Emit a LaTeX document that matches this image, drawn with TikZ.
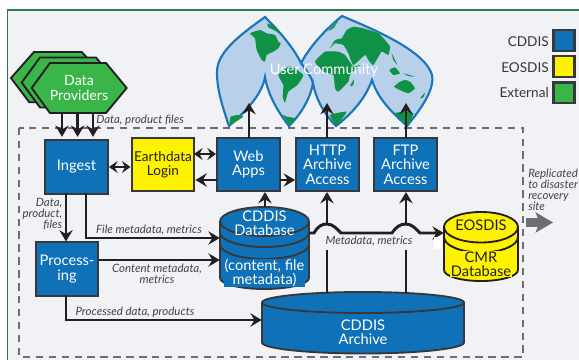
\documentclass[tikz,border=0pt]{standalone}
\usepackage{fontspec}
\setmainfont{Lato}
\usetikzlibrary{arrows.meta}
\definecolor{bgc}{HTML}{F1F2F5}
\definecolor{panelc}{HTML}{2A7A55}
\definecolor{bluec}{HTML}{0F71B8}
\definecolor{yellowc}{HTML}{FFF200}
\definecolor{greenc}{HTML}{39B54A}
\definecolor{inkc}{HTML}{231F20}
\definecolor{edgec}{HTML}{38383A}
\definecolor{dashc}{HTML}{6D6E71}
\definecolor{oceanc}{HTML}{B9D0EA}
\definecolor{rimc}{HTML}{1B75BB}
\definecolor{landc}{HTML}{0F9146}
\tikzset{
  boxbase/.style={draw=edgec,line width=1.5pt,inner sep=0pt,align=center,minimum width=47.2pt,minimum height=39.8pt,font=\fontsize{11pt}{10.8pt}\selectfont},
  bluebox/.style={boxbase,fill=bluec,text=white},
  yellowbox/.style={boxbase,fill=yellowc,text=inkc,font=\fontsize{10.2pt}{10.8pt}\selectfont},
  cylblue/.style={draw=edgec,line width=1.4pt,fill=bluec},
  cylyellow/.style={draw=inkc,line width=1.4pt,fill=yellowc},
  hexshape/.style={draw=inkc,line width=1.4pt,fill=greenc,line join=miter},
  flow/.style={draw=inkc,line width=2.2pt,-{Stealth[length=8.5pt,width=10pt,inset=3pt]}},
  flowboth/.style={draw=inkc,line width=2.2pt,{Stealth[length=6.5pt,width=9pt,inset=2.4pt]}-{Stealth[length=6.5pt,width=9pt,inset=2.4pt]}},
  plainflow/.style={draw=inkc,line width=2.2pt},
  note/.style={inner sep=0pt,align=center,text=inkc!85,font=\itshape\fontsize{8.6pt}{8.2pt}\selectfont},
  cyltext/.style={inner sep=0pt,align=center,font=\fontsize{11pt}{10.6pt}\selectfont},
  legendtext/.style={inner sep=0pt,anchor=east,text=inkc!90,font=\fontsize{10.2pt}{10pt}\selectfont},
  legendbox/.style={draw=edgec,line width=1.8pt,inner sep=0pt,minimum width=15.6pt,minimum height=15.6pt},
  land/.style={fill=landc,draw=none},
  hitbox/.style={inner sep=0pt,draw=none,fill=none}
}
\newcommand{\landblob}[1]{\fill[land] plot[smooth cycle,tension=.25] coordinates {#1};}
\begin{document}
\begin{tikzpicture}[x=.75pt,y=-.75pt]
\useasboundingbox (0,0) rectangle (579,360);
% panel
\fill[white] (0,0) rectangle (579,360);
\fill[bgc] (7.5,10) rectangle (579,360);
\draw[panelc,line width=1.1pt] (7.5,360) -- (7.5,10) -- (579,10);
% maps
\draw[fill=oceanc,draw=rimc,line width=1.6pt,line join=miter]
 (265,17) .. controls (280,32) and (293,47) .. (301,63)
 .. controls (311,45) and (325,30) .. (342,16)
 .. controls (370,28) and (425,50) .. (432,75)
 .. controls (435,90) and (420,110) .. (407,126)
 .. controls (395,115) and (378,100) .. (372,80)
 .. controls (365,100) and (350,115) .. (336,126)
 .. controls (325,115) and (316,100) .. (313,83)
 .. controls (310,100) and (300,115) .. (289,126)
 .. controls (278,112) and (268,95) .. (265,77)
 .. controls (262,95) and (245,112) .. (229,126)
 .. controls (222,105) and (217,90) .. (217,72)
 .. controls (217,52) and (240,35) .. cycle;
\draw[rimc,line width=1.6pt] (301,63) .. controls (306,70) and (311,76) .. (313,83);
\begin{scope}[shift={(210,10)},x=.25pt,y=-.25pt]
 \landblob{(120,70)(150,60)(170,70)(195,75)(205,95)(212,100)(205,115)(190,125)(170,135)(165,155)(155,150)(140,120)(135,85)}
 \landblob{(172,40)(195,50)(215,75)(195,62)(175,52)}
 \landblob{(205,195)(240,168)(280,195)(262,225)(235,245)(225,278)(218,260)(220,225)}
 \landblob{(60,345)(62,320)(85,315)(100,320)}
 \landblob{(218,315)(230,320)(255,325)(240,345)}
\end{scope}
\begin{scope}[shift={(310,10)},x=.25pt,y=-.25pt]
 \landblob{(15,155)(45,125)(85,125)(105,135)(130,170)(150,165)(120,195)(115,215)(85,245)(75,235)(70,195)(40,185)}
 \landblob{(60,115)(75,90)(95,85)(110,60)(130,50)(160,55)(205,70)(225,90)(240,110)(235,135)(215,125)(190,165)(175,150)(165,135)(130,165)(115,130)(100,105)(75,100)}
 \landblob{(55,62)(85,32)(70,55)}
 \landblob{(252,230)(270,215)(285,210)(300,215)(315,235)(295,250)(270,240)}
 \landblob{(60,315)(110,305)(80,345)}
 \landblob{(255,310)(285,305)(310,310)(295,345)}
 \landblob{(238,180)(255,172)(270,190)(250,195)}
 \landblob{(280,190)(315,200)(295,198)}
 \landblob{(120,228)(132,208)(130,225)}
 \landblob{(245,130)(255,150)(262,165)(250,150)}
 \landblob{(330,265)(345,248)(340,262)}
\end{scope}
\node[inner sep=0pt,text=white,font=\fontsize{11pt}{11pt}\selectfont] (community) at (324,70) {User Community};
% dashed frame
\draw[dashc,line width=2.1pt,dash pattern=on 5.5pt off 4.2pt] (19,128) rectangle (523,357);
% hexagons
\draw[hexshape] (11,78) -- (34,52) -- (81.7,52) -- (106,78) -- (85.3,102.3) -- (29.3,102.3) -- cycle;
\draw[hexshape] (21.7,82.5) -- (40,57.5) -- (96,57.5) -- (116.7,82.5) -- (96,107.5) -- (40,107.5) -- cycle;
\draw[hexshape] (31.7,88) -- (50,63) -- (106,63) -- (126.7,88) -- (106,113) -- (50,113) -- cycle;
\node[inner sep=0pt,align=center,text=white,font=\fontsize{10.6pt}{10.8pt}\selectfont] (providers) at (79,88) {Data\\Providers};
\coordinate (prov1) at (62,113);
\coordinate (prov2) at (77.6,113);
\coordinate (prov3) at (93,113);
% boxes
\node[bluebox] (ingest) at (76.5,167) {Ingest};
\node[yellowbox] (login) at (163,164.5) {Earthdata\\Login};
\node[bluebox] (web) at (248.5,164.5) {Web\\Apps};
\node[bluebox] (http) at (327.5,164.5) {HTTP\\Archive\\Access};
\node[bluebox] (ftp) at (405.5,164.5) {FTP\\Archive\\Access};
\node[bluebox] (proc) at (67,269) {Process-\\ing};
% cylinder CDDIS database
\draw[cylblue] (220,221.5) arc[start angle=180,end angle=360,x radius=44.5,y radius=14.5] -- (309,278) arc[start angle=0,end angle=180,x radius=44.5,y radius=11] -- cycle;
\draw[edgec,line width=1.4pt] (220,221.5) arc[start angle=180,end angle=0,x radius=44.5,y radius=14.5];
\draw[edgec,line width=1.4pt] (220,232.5) arc[start angle=180,end angle=0,x radius=44.5,y radius=14.5];
\draw[edgec,line width=1.4pt] (220,244.5) arc[start angle=180,end angle=0,x radius=44.5,y radius=14.5];
\node[hitbox,minimum width=66.8pt,minimum height=61.5pt] (database) at (264.5,248) {};
\node[cyltext,text=white] (dbname) at (264.5,223) {CDDIS\\Database};
\node[cyltext,text=white,fill=bluec,inner sep=.5pt] (dbnote) at (264.5,273) {(content, file\\metadata)};
% cylinder archive
\draw[cylblue] (262,302.5) arc[start angle=180,end angle=360,x radius=101,y radius=10.5] -- (464,342.5) arc[start angle=0,end angle=180,x radius=101,y radius=11] -- cycle;
\draw[edgec,line width=1.4pt] (262,302.5) arc[start angle=180,end angle=0,x radius=101,y radius=10.5];
\node[hitbox,minimum width=151.5pt,minimum height=46pt] (archive) at (363,323) {};
\node[cyltext,text=white] (archivename) at (363,332) {CDDIS\\Archive};
% cylinder EOSDIS
\draw[cylyellow] (444,227) arc[start angle=180,end angle=360,x radius=37,y radius=15] -- (518,270) arc[start angle=0,end angle=180,x radius=37,y radius=11] -- cycle;
\draw[inkc,line width=1.4pt] (444,227) arc[start angle=180,end angle=0,x radius=37,y radius=15.5];
\draw[inkc,line width=1.4pt] (444,237) arc[start angle=180,end angle=0,x radius=37,y radius=15.5];
\node[hitbox,minimum width=55.5pt,minimum height=52pt] (cmr) at (481,246.5) {};
\node[cyltext,text=inkc] (cmrtop) at (481,225) {EOSDIS};
\node[cyltext,text=inkc,fill=yellowc,inner sep=.5pt] (cmrname) at (481,264) {CMR\\Database};
% connectors
\draw[flow,shorten >=2pt] (prov1) -- (prov1 |- ingest.north);
\draw[flow,shorten >=2pt] (prov2) -- (prov2 |- ingest.north);
\draw[flow,shorten >=2pt] (prov3) -- (prov3 |- ingest.north);
\coordinate (i2p) at (66,193);
\draw[flow] (i2p) -- (i2p |- proc.north);
\coordinate (i2d) at (86,193);
\draw[flow] (i2d) |- (database.west |- 0,238);
\coordinate (p2d) at (98.5,260);
\draw[flow] (p2d) -- (p2d -| database.west);
\coordinate (p2a) at (66,295);
\draw[flow] (p2a) |- (archive.west |- 0,320);
\draw[flowboth] (ingest.east) -- (ingest.east -| login.west);
\coordinate (l2w) at (194,154);
\draw[flowboth] (l2w) -- (l2w -| web.west);
\coordinate (w2l) at (217,180);
\draw[flow] (w2l) -- (w2l -| login.east);
\coordinate (w2h) at (280,180);
\draw[flow] (w2h) -- (w2h -| http.west);
\coordinate (dbup) at (265,207);
\draw[flow] (dbup) -- (dbup |- web.south);
\coordinate (webtop) at (249,138);
\coordinate (webtip) at (249,103);
\draw[flow] (webtop) -- (webtip);
\coordinate (httptop) at (327,138);
\coordinate (httptip) at (327,103);
\draw[flow] (httptop) -- (httptip);
\coordinate (ftptop) at (406,138);
\coordinate (ftptip) at (406,103);
\draw[flow] (ftptop) -- (ftptip);
% metadata bus with hops
\coordinate (hop1) at (327,224);
\coordinate (hop2) at (406,224);
\draw[flow] (309.5,233) -- (314,233) .. controls (318,226) and (322,224) .. (hop1) .. controls (333,224) and (337,229) .. (341,233) -- (392,233) .. controls (396,227) and (400,224) .. (hop2) .. controls (412,224) and (416,229) .. (420,233) -- (cmr.west |- 0,233);
\draw[flow] (hop1) -- (hop1 |- http.south);
\draw[flow] (hop2) -- (hop2 |- ftp.south);
\coordinate (low1) at (327,249.5);
\coordinate (low2) at (406,249.5);
\draw[plainflow] (low1) -- (327,293);
\draw[plainflow] (low2) -- (406,293);
\fill[white] (434,237) rectangle (442,249);
% labels
\node[note,anchor=west] (lab1) at (96,120) {Data, product files};
\node[note,align=right,anchor=east] (lab2) at (62.5,214.5) {Data,\\product,\\files};
\node[note] (lab3) at (149,230) {File metadata, metrics};
\node[note] (lab4) at (157,273.5) {Content metadata,\\metrics};
\node[note] (lab5) at (135,312) {Processed data, products};
\node[note] (lab6) at (369,241) {Metadata, metrics};
\node[note,align=left,anchor=west] (lab7) at (528,190) {Replicated\\to disaster\\recovery\\site};
% grey exit arrow
\coordinate (exitstart) at (526,222.5);
\coordinate (exitend) at (553,222.5);
\draw[dashc,line width=6.8pt,-{Stealth[length=13pt,width=15pt,inset=3pt]}] (exitstart) -- (exitend);
% legend
\node[legendbox,fill=bluec] (k1) at (564,40.5) {};
\node[legendbox,fill=yellowc] (k2) at (564,66.7) {};
\node[legendbox,fill=greenc] (k3) at (564,92.8) {};
\node[legendtext] (t1) at (549,42) {CDDIS};
\node[legendtext] (t2) at (549,68) {EOSDIS};
\node[legendtext] (t3) at (549,93) {External};
\end{tikzpicture}
\end{document}
